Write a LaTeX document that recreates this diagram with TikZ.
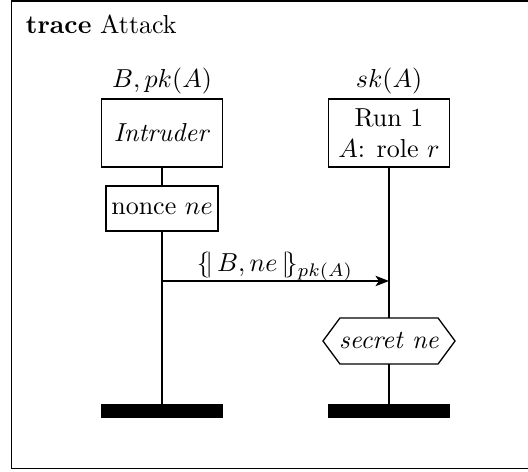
\documentclass[tikz,border=0pt]{standalone}
\usetikzlibrary{calc,arrows.meta}
\begin{document}
\begin{tikzpicture}[x=0.3846pt, y=-0.3846pt, line width=0.5pt,
  every node/.style={inner sep=0pt, outer sep=0pt},
  instbox/.style={draw, minimum width=46.5pt, minimum height=26.2pt, align=center},
  actbox/.style={draw, minimum width=43.1pt, minimum height=17.3pt},
  condbox/.style={minimum width=50.8pt, minimum height=17.7pt},
  endbar/.style={fill=black, minimum width=46.9pt, minimum height=5.4pt},
  msg/.style={-{Stealth[length=5.2pt,width=4pt,inset=1.3pt]}}]
\useasboundingbox (0,0) rectangle (528,472);

% frame of the trace
\draw[line width=0.75pt] (545,1.3) -- (11.5,1.3) -- (11.5,468.5) -- (545,468.5);
\node[anchor=base west] (title) at (26,34) {\textbf{trace} Attack};

% instance heads
\node[anchor=base] (lknow) at (162,88) {$B, pk(A)$};
\node[anchor=base] (rknow) at (389,88) {$sk(A)$};
\node[instbox] (intr) at (162,133) {\textit{Intruder}};
\node[instbox] (run) at (389,133) {Run 1\\$A$: role $r$};

% actions
\node[actbox] (nonce) at (162,208.5) {nonce $ne$};
\node[condbox] (sec) at (389,341) {\textit{secret ne}};
\draw ($(sec.north west)+(17,0)$) -- ($(sec.north east)+(-17,0)$) -- (sec.east)
  -- ($(sec.south east)+(-17,0)$) -- ($(sec.south west)+(17,0)$) -- (sec.west) -- cycle;

% instance ends
\node[endbar] (lbar) at (162,411) {};
\node[endbar] (rbar) at (389,411) {};

% lifelines
\draw (intr.south) -- (nonce.north);
\draw (nonce.south) -- (lbar.north);
\draw (run.south) -- (sec.north);
\draw (sec.south) -- (rbar.north);

% message
\coordinate (m1) at (162,281);
\coordinate (m2) at (389,281);
\draw[msg] (m1) -- (m2);
\node[anchor=base] (mlbl) at (275,272) {$\{\!|\,B, ne\,|\!\}_{pk(A)}$};
\end{tikzpicture}
\end{document}
